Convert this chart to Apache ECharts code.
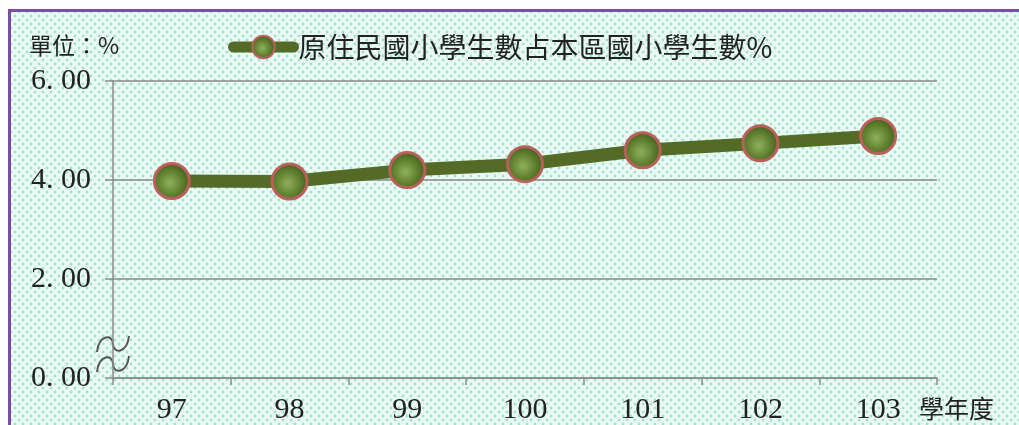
<!DOCTYPE html>
<html>
<head>
<meta charset="utf-8">
<script src="https://cdn.jsdelivr.net/npm/echarts@6/dist/echarts.min.js"></script>
<style>
html, body { margin: 0; padding: 0; background: #fff; overflow: hidden; }
#frame {
    position: absolute; left: 8px; top: 9px; width: 1040px; height: 440px;
    border-left: 3px solid #7a4ea4; border-top: 3px solid #7a4ea4;
    background-color: #e9f9f3;
    background-image: radial-gradient(#9fe2cb 1.1px, transparent 1.7px), radial-gradient(#9fe2cb 1.1px, transparent 1.7px);
    background-size: 8px 8px;
    background-position: 0 0, 4px 4px;
}
#main { position: absolute; left: 0; top: 0; width: 1019px; height: 425px; }
</style>
</head>
<body>
<div id="frame"></div>
<div id="main"></div>
<script>
// 學年度
var years = ['97', '98', '99', '100', '101', '102', '103'];
// 原住民國小學生數占本區國小學生數%
var ratio = [3.98, 3.97, 4.20, 4.32, 4.60, 4.74, 4.89];
var seriesName = '原住民國小學生數占本區國小學生數%';
var yMin = 0, yMax = 6, yStep = 2;

var numFont = '"Liberation Serif", "DejaVu Serif", serif';
var cjkFont = '"Noto Sans CJK TC", "Noto Sans CJK SC", sans-serif';

var chart = echarts.init(document.getElementById('main'));

// 軸斷裂符號 (兩條波浪線)
function wave(dy) {
    var st = { fill: 'none', stroke: '#555', lineWidth: 2 };
    return [{
        type: 'bezierCurve',
        shape: { x1: 97, y1: 352 + dy, cpx1: 99, cpy1: 334 + dy, cpx2: 113, cpy2: 334 + dy, x2: 113, y2: 344 + dy },
        style: st
    }, {
        type: 'bezierCurve',
        shape: { x1: 113, y1: 344 + dy, cpx1: 113, cpy1: 354 + dy, cpx2: 127, cpy2: 354 + dy, x2: 129, y2: 336 + dy },
        style: st
    }];
}

var option = {
    animation: false,
    backgroundColor: 'transparent',
    grid: { left: 113, right: 82, top: 81, bottom: 45 },
    legend: {
        left: 223,
        top: 28,
        itemWidth: 60,
        itemHeight: 28,
        itemGap: 2,
        lineStyle: { width: 11, cap: 'round' },
        textStyle: { fontFamily: cjkFont, fontSize: 28, color: '#222' },
        data: [seriesName]
    },
    xAxis: {
        type: 'category',
        data: years,
        boundaryGap: true,
        name: '學年度',
        nameLocation: 'end',
        nameGap: -18,
        nameTextStyle: { fontFamily: cjkFont, fontSize: 25, color: '#222', align: 'left', verticalAlign: 'top', padding: [18, 0, 0, 0] },
        axisLine: { lineStyle: { color: '#8a8a8a', width: 1.5 } },
        axisTick: { show: true, length: 7, lineStyle: { color: '#8a8a8a', width: 1.5 } },
        axisLabel: { fontFamily: numFont, fontSize: 30, color: '#222', margin: 17 },
        splitLine: { show: false }
    },
    yAxis: {
        type: 'value',
        min: yMin,
        max: yMax,
        interval: yStep,
        name: '單位：%',
        nameLocation: 'end',
        nameGap: 24,
        nameTextStyle: { fontFamily: cjkFont, fontSize: 23, color: '#222', align: 'left', padding: [0, 0, 0, -84] },
        axisLine: { show: true, lineStyle: { color: '#8a8a8a', width: 1.5 } },
        axisTick: { show: true, length: 8, lineStyle: { color: '#8a8a8a', width: 1.5 } },
        axisLabel: {
            fontFamily: numFont, fontSize: 30, color: '#222', margin: 22,
            formatter: function (v) { return v.toFixed(2).replace('.', '. '); }
        },
        splitLine: { show: true, lineStyle: { color: '#8a8a8a', width: 1.5 } }
    },
    graphic: wave(0).concat(wave(20)),
    series: [{
        name: seriesName,
        type: 'line',
        data: ratio,
        symbol: 'circle',
        symbolSize: 35,
        lineStyle: { color: '#546a27', width: 13 },
        itemStyle: {
            color: {
                type: 'radial', x: 0.45, y: 0.55, r: 0.6,
                colorStops: [
                    { offset: 0, color: '#8fb05a' },
                    { offset: 0.6, color: '#5a7a2c' },
                    { offset: 1, color: '#3c561a' }
                ]
            },
            borderColor: '#b9605a',
            borderWidth: 3
        }
    }]
};

chart.setOption(option);
</script>
</body>
</html>
